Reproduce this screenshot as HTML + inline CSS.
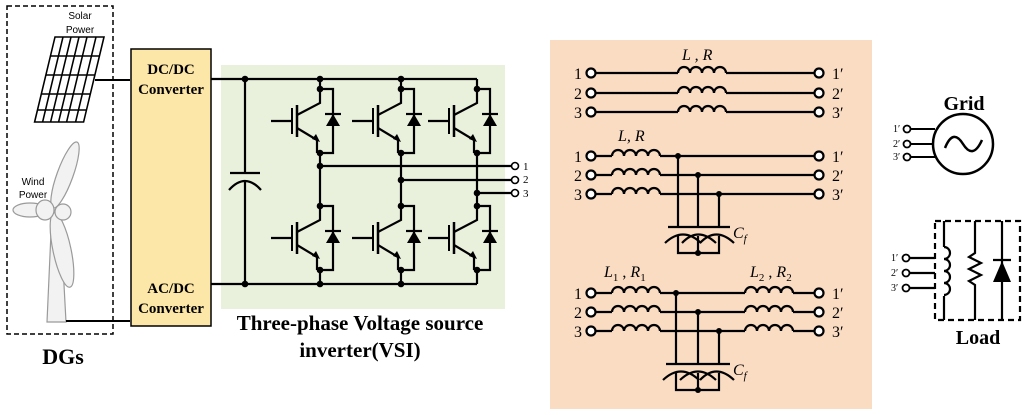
<!DOCTYPE html>
<html><head><meta charset="utf-8"><style>
html,body{margin:0;padding:0;background:#fff;width:1024px;height:415px;overflow:hidden}
svg{display:block}
.s{font-family:"Liberation Serif",serif}
.b{font-family:"Liberation Serif",serif;font-weight:bold}
</style></head><body>
<svg width="1024" height="415" viewBox="0 0 1024 415" xmlns="http://www.w3.org/2000/svg">
<defs>
<g id="sw" stroke="#000" stroke-width="2.2" fill="none">
  <path d="M0,0V14L-23,26"/>
  <path d="M-23,16V48" stroke-width="2.5"/>
  <path d="M-28,19V45" stroke-width="2"/>
  <path d="M-49,32H-28"/>
  <path d="M-23,39L-3,51V64"/>
  <polygon points="0,53 -8,50 -4,45" fill="#000" stroke="none"/>
  <path d="M0,0H13V64H0"/>
  <polygon points="6,37 20,37 13,25" fill="#000" stroke="none"/>
  <path d="M5,25H21"/>
  <circle cx="0" cy="0" r="3.3" fill="#000" stroke="none"/>
  <circle cx="0" cy="64" r="3.3" fill="#000" stroke="none"/>
</g>
<path id="ind" d="M0,0a6,6 0 0 1 12,0a6,6 0 0 1 12,0a6,6 0 0 1 12,0a6,6 0 0 1 12,0" fill="none" stroke="#000" stroke-width="2.2"/>
</defs>

<!-- left dashed box -->
<rect x="7" y="6" width="106" height="328" fill="none" stroke="#000" stroke-width="1.5" stroke-dasharray="5,3"/>
<text x="80" y="19" class="s" font-size="10" text-anchor="middle" font-family="Liberation Sans" style="font-family:'Liberation Sans',sans-serif">Solar</text>
<text x="80" y="33" font-size="10" text-anchor="middle" style="font-family:'Liberation Sans',sans-serif">Power</text>
<!-- solar panel -->
<g transform="translate(55,37) skewX(-13.5)" stroke="#000" stroke-width="1.6" fill="#fff">
  <rect x="0" y="0" width="49" height="85"/>
  <path d="M8,0V85M16,0V85M24,0V85M32,0V85M41,0V85M0,19H49M0,38H49M0,57H49M0,73H49"/>
</g>
<line x1="95" y1="80" x2="130" y2="80" stroke="#000" stroke-width="2"/>
<!-- turbine -->
<g stroke="#9a9a9a" stroke-width="1.2" fill="#f2f2f2">
  <path d="M52,210 L60,210 L66,322 L47,322 Z"/>
  <ellipse cx="65" cy="175" rx="8" ry="35" transform="rotate(20 65 175)"/>
  <ellipse cx="30" cy="210" rx="17" ry="7"/>
  <ellipse cx="62" cy="250" rx="9" ry="38" transform="rotate(-12 62 250)"/>
  <ellipse cx="63" cy="212" rx="8" ry="8"/>
  <ellipse cx="45" cy="210" rx="9" ry="10"/>
</g>
<text x="33" y="185" font-size="10" text-anchor="middle" style="font-family:'Liberation Sans',sans-serif">Wind</text>
<text x="33" y="198" font-size="10" text-anchor="middle" style="font-family:'Liberation Sans',sans-serif">Power</text>
<line x1="66" y1="321" x2="130" y2="321" stroke="#000" stroke-width="2"/>
<text x="63" y="364" class="b" font-size="22" text-anchor="middle">DGs</text>

<!-- converter box -->
<rect x="131" y="49" width="80" height="277" fill="#fde7a8" stroke="#000" stroke-width="1.5"/>
<text x="171" y="74" class="b" font-size="15" text-anchor="middle">DC/DC</text>
<text x="171" y="94" class="b" font-size="15" text-anchor="middle">Converter</text>
<text x="171" y="293" class="b" font-size="15" text-anchor="middle">AC/DC</text>
<text x="171" y="313" class="b" font-size="15" text-anchor="middle">Converter</text>

<!-- inverter -->
<rect x="221" y="65" width="284" height="244" fill="#e9f0dc"/>
<g stroke="#000" stroke-width="2.2" fill="none">
  <path d="M211,79H477M211,284H477"/>
  <path d="M245,79V173M245,182V284M230,173H260"/>
  <path d="M229,190Q245,172 261,190"/>
  <path d="M320,79V89M320,153V206M320,270V284"/>
  <path d="M401,79V89M401,153V206M401,270V284"/>
  <path d="M477,79V89M477,153V206M477,270V284"/>
  <path d="M320,166H511M401,180H511M477,193H511"/>
</g>
<g fill="#000">
  <circle cx="245" cy="79" r="3.3"/><circle cx="320" cy="79" r="3.3"/><circle cx="401" cy="79" r="3.3"/>
  <circle cx="245" cy="284" r="3.3"/><circle cx="320" cy="284" r="3.3"/><circle cx="401" cy="284" r="3.3"/>
  <circle cx="320" cy="166" r="3.3"/><circle cx="401" cy="180" r="3.3"/><circle cx="477" cy="193" r="3.3"/>
</g>
<use href="#sw" x="320" y="89"/><use href="#sw" x="401" y="89"/><use href="#sw" x="477" y="89"/>
<use href="#sw" x="320" y="206"/><use href="#sw" x="401" y="206"/><use href="#sw" x="477" y="206"/>
<g fill="#fff" stroke="#000" stroke-width="1.6">
  <circle cx="515" cy="166" r="3.5"/><circle cx="515" cy="180" r="3.5"/><circle cx="515" cy="193" r="3.5"/>
</g>
<text x="523" y="170" class="s" font-size="11">1</text>
<text x="523" y="183" class="s" font-size="11">2</text>
<text x="523" y="197" class="s" font-size="11">3</text>
<text x="360" y="330" class="b" font-size="21" text-anchor="middle">Three-phase Voltage source</text>
<text x="360" y="357" class="b" font-size="21" text-anchor="middle">inverter(VSI)</text>

<!-- filter panel -->
<rect x="550" y="40" width="322" height="369" fill="#fadcc3"/>
<g stroke="#000" stroke-width="2.2" fill="none">
  <!-- section 1 -->
  <path d="M594,73H678M726,73H816M594,93H678M726,93H816M594,112H678M726,112H816"/>
  <!-- section 2 -->
  <path d="M594,156H612M660,156H816M594,175H612M660,175H816M594,194H612M660,194H816"/>
  <path d="M678,156V227M698,175V227M719,194V227M668,227H730"/>
  <path d="M665,243Q683,226 701,243M682,243Q698,226 716,243M700,243Q716,226 734,243"/>
  <path d="M678,236V253H719V236M698,236V253"/>
  <!-- section 3 -->
  <path d="M594,293H612M660,293H745M793,293H816M594,312H612M660,312H745M793,312H816M594,331H612M660,331H745M793,331H816"/>
  <path d="M676,293V364M698,312V364M719,331V364M666,364H730"/>
  <path d="M663,380Q681,363 699,380M680,380Q698,363 716,380M700,380Q716,363 734,380"/>
  <path d="M676,373V390H719V373M698,373V390"/>
</g>
<use href="#ind" x="678" y="73"/><use href="#ind" x="678" y="93"/><use href="#ind" x="678" y="112"/>
<use href="#ind" x="612" y="156"/><use href="#ind" x="612" y="175"/><use href="#ind" x="612" y="194"/>
<use href="#ind" x="612" y="293"/><use href="#ind" x="612" y="312"/><use href="#ind" x="612" y="331"/>
<use href="#ind" x="745" y="293"/><use href="#ind" x="745" y="312"/><use href="#ind" x="745" y="331"/>
<g fill="#000">
  <circle cx="678" cy="156" r="3"/><circle cx="698" cy="175" r="3"/><circle cx="719" cy="194" r="3"/><circle cx="698" cy="253" r="3"/>
  <circle cx="676" cy="293" r="3"/><circle cx="698" cy="312" r="3"/><circle cx="719" cy="331" r="3"/><circle cx="698" cy="390" r="3"/>
</g>
<g fill="#fff" stroke="#000" stroke-width="2.2">
  <circle cx="591" cy="73" r="4.5"/><circle cx="591" cy="93" r="4.5"/><circle cx="591" cy="112" r="4.5"/>
  <circle cx="819" cy="73" r="4.5"/><circle cx="819" cy="93" r="4.5"/><circle cx="819" cy="112" r="4.5"/>
  <circle cx="591" cy="156" r="4.5"/><circle cx="591" cy="175" r="4.5"/><circle cx="591" cy="194" r="4.5"/>
  <circle cx="819" cy="156" r="4.5"/><circle cx="819" cy="175" r="4.5"/><circle cx="819" cy="194" r="4.5"/>
  <circle cx="591" cy="293" r="4.5"/><circle cx="591" cy="312" r="4.5"/><circle cx="591" cy="331" r="4.5"/>
  <circle cx="819" cy="293" r="4.5"/><circle cx="819" cy="312" r="4.5"/><circle cx="819" cy="331" r="4.5"/>
</g>
<g class="s" font-size="16">
  <text x="574" y="79">1</text><text x="574" y="99">2</text><text x="574" y="118">3</text>
  <text x="574" y="162">1</text><text x="574" y="181">2</text><text x="574" y="200">3</text>
  <text x="574" y="299">1</text><text x="574" y="318">2</text><text x="574" y="337">3</text>
  <text x="832" y="79">1′</text><text x="832" y="99">2′</text><text x="832" y="118">3′</text>
  <text x="832" y="162">1′</text><text x="832" y="181">2′</text><text x="832" y="200">3′</text>
  <text x="832" y="299">1′</text><text x="832" y="318">2′</text><text x="832" y="337">3′</text>
</g>
<g class="s" font-size="16" font-style="italic">
  <text x="682" y="60">L , R</text>
  <text x="618" y="141">L, R</text>
  <text x="733" y="238">C<tspan font-size="11" dy="4">f</tspan></text>
  <text x="733" y="375">C<tspan font-size="11" dy="4">f</tspan></text>
  <text x="604" y="277">L<tspan font-size="11" dy="4" font-style="normal">1</tspan><tspan dy="-4" font-style="normal"> , </tspan>R<tspan font-size="11" dy="4" font-style="normal">1</tspan></text>
  <text x="750" y="277">L<tspan font-size="11" dy="4" font-style="normal">2</tspan><tspan dy="-4" font-style="normal"> , </tspan>R<tspan font-size="11" dy="4" font-style="normal">2</tspan></text>
</g>

<!-- grid -->
<text x="964" y="110" class="b" font-size="20" text-anchor="middle">Grid</text>
<circle cx="963" cy="144" r="30" fill="#fff" stroke="#000" stroke-width="2.5"/>
<path d="M945,148 Q953,128 963,144 Q973,160 982,140" fill="none" stroke="#000" stroke-width="2.5"/>
<g stroke="#000" stroke-width="2" fill="none"><path d="M910,129H935M910,144H933M910,157H935"/></g>
<g fill="#fff" stroke="#000" stroke-width="1.8">
  <circle cx="907" cy="129" r="3.5"/><circle cx="907" cy="144" r="3.5"/><circle cx="907" cy="157" r="3.5"/>
</g>
<g class="s" font-size="10"><text x="893" y="132">1′</text><text x="893" y="147">2′</text><text x="893" y="160">3′</text></g>

<!-- load -->
<rect x="935" y="221" width="85" height="99" fill="none" stroke="#000" stroke-width="2.2" stroke-dasharray="6,4"/>
<g stroke="#000" stroke-width="2.2" fill="none">
  <path d="M944,221V247M944,296V320"/>
  <path d="M944,247a6,6 0 0 1 0,12a6,6 0 0 1 0,12a6,6 0 0 1 0,12a6,6 0 0 1 0,12"/>
  <path d="M975,221V253L969,257L981,263L969,269L981,275L969,281L975,285V320"/>
  <path d="M1002,221V320M993,260H1011"/>
  <path d="M908,258H935M908,273H935M908,288H935"/>
</g>
<polygon points="1002,261 993,282 1011,282" fill="#000"/>
<g fill="#fff" stroke="#000" stroke-width="1.8">
  <circle cx="906" cy="258" r="3.5"/><circle cx="906" cy="273" r="3.5"/><circle cx="906" cy="288" r="3.5"/>
</g>
<g class="s" font-size="10"><text x="891" y="261">1′</text><text x="891" y="276">2′</text><text x="891" y="291">3′</text></g>
<text x="978" y="344" class="b" font-size="20" text-anchor="middle">Load</text>
</svg>
</body></html>
